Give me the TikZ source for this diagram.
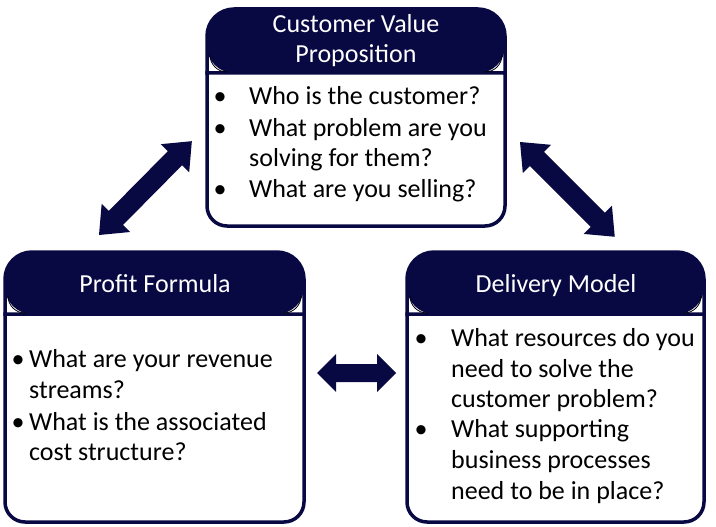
\documentclass[tikz,border=0pt]{standalone}
\usepackage{fontspec}
\setmainfont{Carlito}
\definecolor{navy}{RGB}{8,8,66}
\tikzset{
  boxline/.style={draw=navy, line width=3.5pt, fill=white},
  headcurve/.style={draw=black, line width=0.8pt},
  title/.style={text=white, font=\fontsize{26}{30}\selectfont, inner sep=0pt, anchor=base},
  txt/.style={text=black, font=\fontsize{26}{31}\selectfont, inner sep=0pt, anchor=base west},
  bul/.style={text=black, font=\fontsize{26}{31}\selectfont, inner sep=0pt, anchor=base},
  arrowshape/.style={fill=navy, draw=none}
}
\newcommand{\dblarrowpath}[4]{% L, s, h, a
  (0,0) -- (#4,#3) -- (#4,#2) -- (#1-#4,#2) -- (#1-#4,#3) -- (#1,0) -- (#1-#4,-#3) -- (#1-#4,-#2) -- (#4,-#2) -- (#4,-#3) -- cycle}
\begin{document}
\begin{tikzpicture}[x=1pt,y=-1pt]
\useasboundingbox (0,0) rectangle (716,527);
% Top box: x 207..505, y 9..226, header bottom 73
\fill[navy, rounded corners=27pt] (207,73) -- (207,9) -- (505,9) -- (505,73) -- cycle;
\draw[boxline] (207,73) [rounded corners=20pt] -- (207,226) -- (505,226) [sharp corners] -- (505,73) -- cycle;
\draw[navy, line width=3.5pt, rounded corners=27pt] (207,75) -- (207,9) -- (505,9) -- (505,75);
\draw[headcurve] (210,55) arc[start angle=180, end angle=270, radius=17pt];
\draw[headcurve] (502,55) arc[start angle=0, end angle=-90, radius=17pt];
% Left box: x 5..304, y 252..522, header bottom 314
\fill[navy, rounded corners=27pt] (5,314) -- (5,252) -- (304,252) -- (304,314) -- cycle;
\draw[boxline] (5,314) [rounded corners=20pt] -- (5,522) -- (304,522) [sharp corners] -- (304,314) -- cycle;
\draw[navy, line width=3.5pt, rounded corners=27pt] (5,316) -- (5,252) -- (304,252) -- (304,316);
\draw[headcurve] (8,296) arc[start angle=180, end angle=270, radius=17pt];
\draw[headcurve] (301,296) arc[start angle=0, end angle=-90, radius=17pt];
% Right box: x 407..704, y 252..522
\fill[navy, rounded corners=27pt] (407,314) -- (407,252) -- (704,252) -- (704,314) -- cycle;
\draw[boxline] (407,314) [rounded corners=20pt] -- (407,522) -- (704,522) [sharp corners] -- (704,314) -- cycle;
\draw[navy, line width=3.5pt, rounded corners=27pt] (407,316) -- (407,252) -- (704,252) -- (704,316);
\draw[headcurve] (410,296) arc[start angle=180, end angle=270, radius=17pt];
\draw[headcurve] (701,296) arc[start angle=0, end angle=-90, radius=17pt];
% ---------- titles ----------
\node[title] (t1a) at (356,33) {Customer Value};
\node[title] (t1b) at (356,63) {Proposition};
\node[title] (t2) at (155,292) {Profit Formula};
\node[title] (t3) at (556,292) {Delivery Model};
% ---------- top box text ----------
\node[bul] (b1a) at (220,105) {•};
\node[txt] (l1a) at (249,105) {Who is the customer?};
\node[bul] (b1b) at (220,136) {•};
\node[txt] (l1b) at (249,136) {What problem are you};
\node[txt] (l1c) at (249,167) {solving for them?};
\node[bul] (b1c) at (220,197) {•};
\node[txt] (l1d) at (249,197) {What are you selling?};
% ---------- left box text ----------
\node[bul] (b2a) at (18,367) {•};
\node[txt] (l2a) at (29,367) {What are your revenue};
\node[txt] (l2b) at (29,398) {streams?};
\node[bul] (b2b) at (18,430) {•};
\node[txt] (l2c) at (29,430) {What is the associated};
\node[txt] (l2d) at (29,460) {cost structure?};
% ---------- right box text ----------
\node[bul] (b3a) at (421,346) {•};
\node[txt] (l3a) at (451,346) {What resources do you};
\node[txt] (l3b) at (451,377) {need to solve the};
\node[txt] (l3c) at (451,407) {customer problem?};
\node[bul] (b3b) at (421,437) {•};
\node[txt] (l3d) at (451,437) {What supporting};
\node[txt] (l3e) at (451,468) {business processes};
\node[txt] (l3f) at (451,499) {need to be in place?};
% ---------- arrows ----------
\begin{scope}[shift={(99,235)}, rotate=45.3]
  \fill[arrowshape] \dblarrowpath{132}{10}{20}{24};
\end{scope}
\begin{scope}[shift={(520,142)}, rotate=-45]
  \fill[arrowshape] \dblarrowpath{134}{10}{20}{24};
\end{scope}
\begin{scope}[shift={(317,373)}]
  \fill[arrowshape] \dblarrowpath{79}{9}{19}{19};
\end{scope}
\end{tikzpicture}
\end{document}
